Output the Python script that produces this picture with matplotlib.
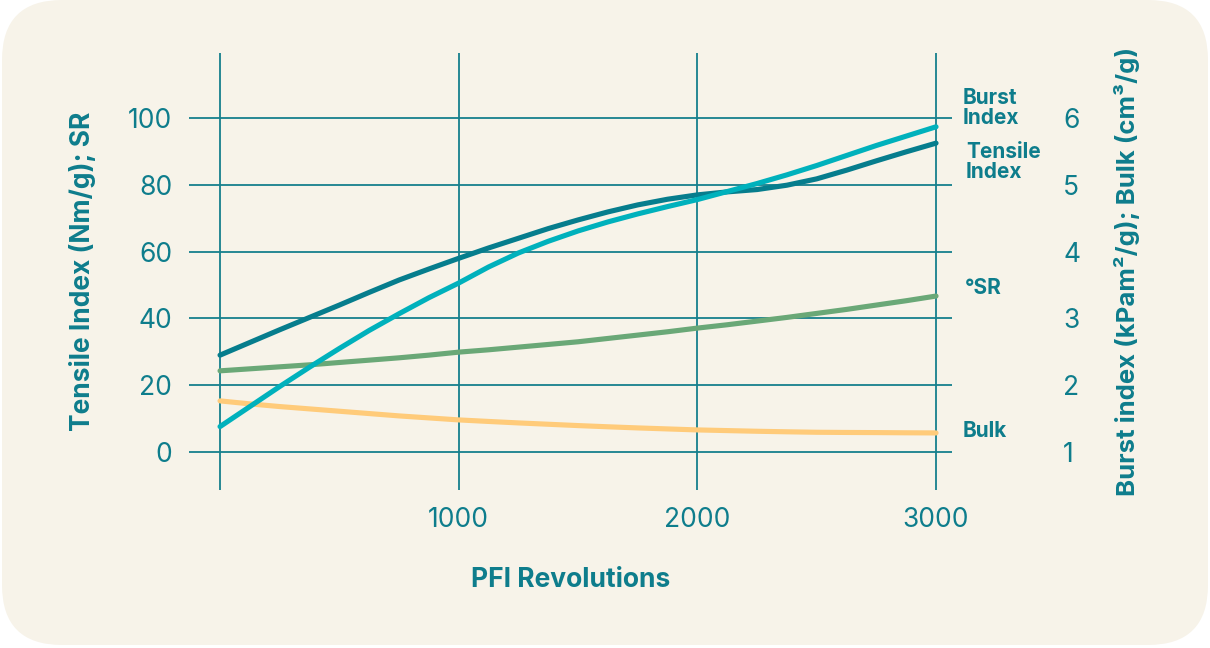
import numpy as np
import matplotlib
matplotlib.use('Agg')
import matplotlib.pyplot as plt
from matplotlib.patches import FancyBboxPatch
import matplotlib.transforms as mtransforms

plt.rcParams['font.family'] = ['Inter', 'DejaVu Sans']

revs = [0, 125, 250, 375, 500, 625, 750, 875, 1000, 1125, 1250, 1375, 1500,
        1625, 1750, 1875, 2000, 2125, 2250, 2375, 2500, 2625, 2750, 2875, 3000]

# left axis series
tensile = [29, 32.8, 36.6, 40.3, 44, 47.8, 51.5, 54.8, 58, 61.1, 64, 66.9, 69.5,
           71.9, 74, 75.7, 77, 77.9, 78.6, 79.9, 81.8, 84.4, 87.2, 89.9, 92.5]
sr = [24.3, 24.9, 25.5, 26.1, 26.8, 27.5, 28.2, 29.0, 29.9, 30.6, 31.4, 32.2, 33,
      34, 35, 36, 37.1, 38.1, 39.2, 40.3, 41.5, 42.7, 44, 45.3, 46.7]

# right axis series
burst = [1.38, 1.68, 1.98, 2.27, 2.55, 2.82, 3.07, 3.31, 3.53, 3.77, 3.98, 4.155,
         4.31, 4.445, 4.565, 4.675, 4.78, 4.90, 5.02, 5.15, 5.29, 5.44, 5.59, 5.73, 5.87]
bulk = [1.765, 1.72, 1.68, 1.645, 1.61, 1.575, 1.54, 1.51, 1.48, 1.457, 1.435,
        1.415, 1.395, 1.377, 1.36, 1.345, 1.33, 1.32, 1.31, 1.302, 1.295, 1.292,
        1.29, 1.287, 1.285]

x_ticks = [0, 1000, 2000, 3000]
x_tick_labels = ['', '1000', '2000', '3000']
left_ticks = [0, 20, 40, 60, 80, 100]
right_ticks = [1, 2, 3, 4, 5, 6]

# colours
bg = '#f7f3e9'
txt = '#0e7d8c'
grid_c = '#167f8d'
c_tensile = '#067d8d'
c_burst = '#00b1bc'
c_sr = '#6aa877'
c_bulk = '#ffcb7a'

fig = plt.figure(figsize=(12.1, 6.48), dpi=100, facecolor='white')

# rounded cream card behind everything
card = FancyBboxPatch((0.02, 0.03), 12.06, 6.45,
                      boxstyle="round,pad=0,rounding_size=0.6",
                      transform=fig.dpi_scale_trans, facecolor=bg,
                      edgecolor='none', zorder=-10)
fig.patches.append(card)

ax = fig.add_axes([0.1562, 0.2438, 0.6306, 0.6744])
ax2 = ax.twinx()
for a in (ax, ax2):
    a.patch.set_visible(False)
    for s in a.spines.values():
        s.set_visible(False)

ymin, ymax = -11.4, 119.5
ax.set_xlim(-130, 3067)
ax.set_ylim(ymin, ymax)
ax2.set_ylim(1 + ymin / 20, 1 + ymax / 20)

ax.set_xticks(x_ticks)
ax.set_xticklabels(x_tick_labels)
ax.set_yticks(left_ticks)
ax2.set_yticks(right_ticks)

ax.grid(True, color=grid_c, linewidth=1.3)
ax.set_axisbelow(True)

ax.tick_params(axis='x', length=0, pad=12, labelsize=19, labelcolor=txt)
ax.tick_params(axis='y', length=0, pad=12, labelsize=19, labelcolor=txt)
ax2.tick_params(axis='y', length=0, pad=80, labelsize=19, labelcolor=txt)

lw = 3.7
ax.plot(revs, tensile, color=c_tensile, lw=lw, solid_capstyle='round', zorder=3)
ax.plot(revs, sr, color=c_sr, lw=lw, solid_capstyle='round', zorder=3)
ax2.plot(revs, bulk, color=c_bulk, lw=lw, solid_capstyle='round', zorder=3)
ax2.plot(revs, burst, color=c_burst, lw=lw, solid_capstyle='round', zorder=4)

# series labels to the right of the plot
trans = mtransforms.blended_transform_factory(ax.transAxes, ax.transData)
lab_kw = dict(transform=trans, color=txt, fontsize=15, fontweight='bold',
              ha='left', va='center', linespacing=1.0)
ax.text(1.0144, 103, 'Burst\nIndex', **lab_kw)
ax.text(1.018, 86.8, 'Tensile\nIndex', **lab_kw)
ax.text(1.017, 49.1, '°SR', **lab_kw)
ax.text(1.0144, 6.3, 'Bulk', **lab_kw)

ax.set_xlabel('PFI Revolutions', fontsize=19, fontweight='bold', color=txt,
              va='center')
ax.xaxis.set_label_coords(0.5, -0.205)
ax.set_ylabel('Tensile Index (Nm/g); SR', fontsize=19, fontweight='bold',
              color=txt, va='center')
ax.yaxis.set_label_coords(-0.140, 0.5)
ax2.set_ylabel('Burst index (kPam²/g); Bulk (cm³/g)', fontsize=18.5,
               fontweight='bold', color=txt, va='center', rotation=90)
ax2.yaxis.set_label_coords(1.229, 0.5)

fig.savefig('out.png', dpi=100, facecolor='white')
